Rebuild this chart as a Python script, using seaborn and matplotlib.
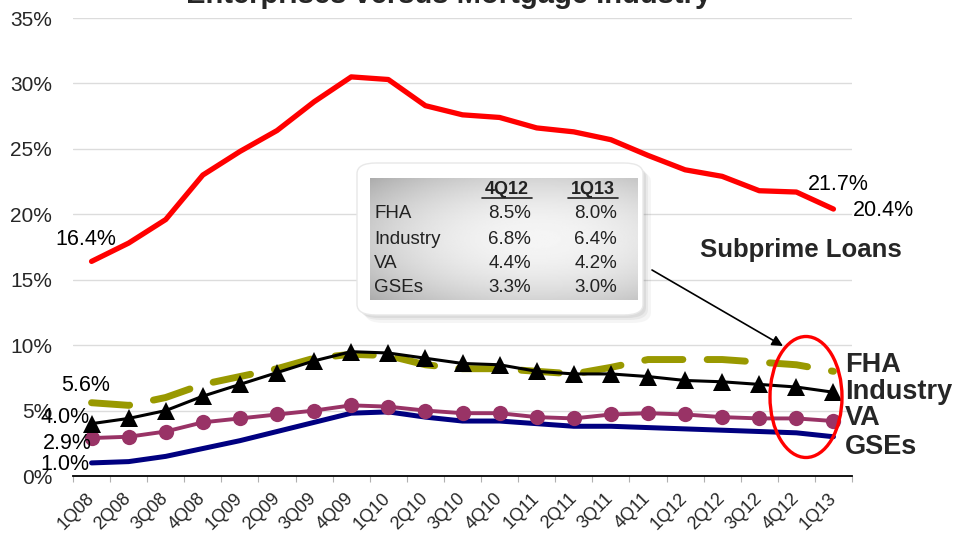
import numpy as np
import pandas as pd
import matplotlib
matplotlib.use("Agg")
import matplotlib.pyplot as plt
import seaborn as sns
from matplotlib.patches import FancyBboxPatch, Ellipse

# === Data (percent of loans) ===
quarters = ["1Q08", "2Q08", "3Q08", "4Q08", "1Q09", "2Q09", "3Q09", "4Q09",
            "1Q10", "2Q10", "3Q10", "4Q10", "1Q11", "2Q11", "3Q11", "4Q11",
            "1Q12", "2Q12", "3Q12", "4Q12", "1Q13"]
subprime = [16.4, 17.8, 19.6, 23.0, 24.8, 26.4, 28.6, 30.5, 30.3, 28.3, 27.6,
            27.4, 26.6, 26.3, 25.7, 24.5, 23.4, 22.9, 21.8, 21.7, 20.4]
fha = [5.6, 5.4, 6.0, 7.0, 7.6, 8.2, 9.0, 9.3, 9.2, 8.5, 8.2,
       8.2, 8.0, 7.8, 8.3, 8.9, 8.9, 8.9, 8.7, 8.5, 8.0]
industry = [4.0, 4.4, 5.0, 6.1, 7.0, 7.9, 8.8, 9.5, 9.4, 9.0, 8.6,
            8.5, 8.0, 7.8, 7.8, 7.6, 7.3, 7.2, 7.0, 6.8, 6.4]
va = [2.9, 3.0, 3.4, 4.1, 4.4, 4.7, 5.0, 5.4, 5.3, 5.0, 4.8,
      4.8, 4.5, 4.4, 4.7, 4.8, 4.7, 4.5, 4.4, 4.4, 4.2]
gses = [1.0, 1.1, 1.5, 2.1, 2.7, 3.4, 4.1, 4.8, 4.9, 4.5, 4.2,
        4.2, 4.0, 3.8, 3.8, 3.7, 3.6, 3.5, 3.4, 3.3, 3.0]
table_rows = ["FHA", "Industry", "VA", "GSEs"]
table_cols = ["4Q12", "1Q13"]

df = pd.DataFrame({"pos": np.arange(len(quarters)), "quarter": quarters,
                   "subprime": subprime, "fha": fha, "industry": industry,
                   "va": va, "gses": gses})

sns.set_theme(style="white")
plt.rcParams["font.family"] = ["Liberation Sans", "DejaVu Sans"]

W, H = 955, 533
fig = plt.figure(figsize=(W / 100, H / 100), dpi=100)
ax = fig.add_axes([73 / W, 1 - 476 / H, (852 - 73) / W, (476 - 18) / H])

# === Lines ===
sns.lineplot(data=df, x="pos", y="subprime", color="#ff0000", lw=3.8, ax=ax,
             zorder=3, solid_capstyle="round")
sns.lineplot(data=df, x="pos", y="gses", color="#000080", lw=3.6, ax=ax, zorder=3)
sns.lineplot(data=df, x="pos", y="va", color="#993366", lw=2.8, marker="o",
             markersize=11, markeredgewidth=0, ax=ax, zorder=4)
sns.lineplot(data=df, x="pos", y="fha", color="#999900", lw=5, ax=ax, zorder=4,
             dashes=False, linestyle=(0, (5.5, 3.5)), dash_capstyle="round")
sns.lineplot(data=df, x="pos", y="industry", color="black", lw=2.2, marker="^",
             markersize=13, markeredgewidth=0, ax=ax, zorder=5)

# === Axes styling ===
ax.set_ylim(0, 35)
ax.set_xlim(-0.5, len(quarters) - 0.5)
ax.set_yticks(range(0, 36, 5))
ax.set_yticklabels([f"{v}%" for v in range(0, 36, 5)], fontsize=15)
ax.tick_params(axis="y", length=0, pad=15)
ax.set_xticks(df["pos"])
ax.set_xticklabels(quarters, fontsize=13, rotation=45, ha="right",
                   va="center", rotation_mode="anchor")
ax.tick_params(axis="x", which="major", length=0, pad=14)
ax.set_xticks(np.arange(-0.5, len(quarters), 1), minor=True)
ax.tick_params(axis="x", which="minor", length=4, width=0.8, color="#b0b0b0",
               direction="out", bottom=True)
ax.grid(axis="y", color="#dcdcdc", lw=1)
ax.grid(axis="x", visible=False)
for s in ["left", "right", "top"]:
    ax.spines[s].set_visible(False)
ax.spines["bottom"].set_color("black")
ax.spines["bottom"].set_linewidth(1.3)
ax.set_xlabel("")
ax.set_ylabel("")

# === Value labels ===
def lab(series, i, txt, dx, dy, ha="center"):
    ax.annotate(txt, xy=(i, series[i]), xytext=(dx * 0.72, dy * 0.72),
                textcoords="offset points", ha=ha, va="center", fontsize=15.5,
                color="black", zorder=6)

lab(subprime, 0, f"{subprime[0]}%", -6, 22)
lab(subprime, 19, f"{subprime[19]}%", 42, 8)
lab(subprime, 20, f"{subprime[20]}%", 19, -1, ha="left")
lab(fha, 0, f"{fha[0]}%", -6, 17)
lab(industry, 0, f"{industry[0]}%", -2, 6, ha="right")
lab(va, 0, f"{va[0]}%", 0, -5, ha="right")
lab(gses, 0, f"{gses[0]}%", -2, -2, ha="right")

# === Series names on the right ===
for name, y in zip(table_rows, [365, 392, 418, 447]):
    fig.text(845 / W, 1 - y / H, name, fontsize=19.5, fontweight="bold",
             ha="left", va="center")
fig.text(801 / W, 1 - 250 / H, "Subprime Loans", fontsize=18.5,
         fontweight="bold", ha="center", va="center")

# === Title (cut off at the top in the source) ===
fig.text(449 / W, 1 - 3 / H, "Enterprises versus Mortgage Industry",
         fontsize=21, fontweight="bold", ha="center", va="baseline")

# === Inset table box ===
def fbox(x0, y0, x1, y1, **kw):
    return FancyBboxPatch((x0 / W, 1 - y1 / H), (x1 - x0) / W, (y1 - y0) / H,
                          transform=fig.transFigure, **kw)

for k, a in [(8, 0.06), (5, 0.08), (3, 0.10)]:
    fig.patches.append(fbox(357 + k, 163 + k, 643 + k, 315 + k,
                            boxstyle="round,pad=0,rounding_size=0.02",
                            fc="#606060", ec="none", alpha=a, zorder=7))
fig.patches.append(fbox(357, 163, 643, 315,
                        boxstyle="round,pad=0,rounding_size=0.02",
                        fc="white", ec="#e8e8e8", lw=1, zorder=8))

tax = fig.add_axes([370 / W, 1 - 300 / H, (637 - 370) / W, (300 - 178) / H],
                   zorder=9)
gx, gy = np.meshgrid(np.linspace(-1, 1, 200), np.linspace(-1, 1, 100))
grad = 0.96 - 0.16 * ((gx - 0.25) ** 2 / 1.6 + gy ** 2 * 0.8)
tax.imshow(grad, cmap="gray", vmin=0, vmax=1, aspect="auto",
           extent=(0, 1, 0, 1), origin="lower")
tax.set_xlim(0, 1)
tax.set_ylim(0, 1)
tax.axis("off")

def tpx(x, y):
    return ((x - 370) / (637 - 370), (300 - y) / (300 - 178))

series_map = {"FHA": fha, "Industry": industry, "VA": va, "GSEs": gses}
for cx, col in zip([507, 593], table_cols):
    t = tax.text(*tpx(cx, 190), col, fontsize=13, fontweight="bold",
                 ha="center", va="center", color="#222222")
    tax.plot([tpx(cx - 25, 198)[0], tpx(cx + 25, 198)[0]],
             [tpx(cx, 198)[1]] * 2, color="#222222", lw=1.2)
for name, y in zip(table_rows, [213, 239, 263, 287]):
    tax.text(*tpx(374, y), name, fontsize=13.5, ha="left", va="center",
             color="#222222")
    vals = series_map[name]
    tax.text(*tpx(531, y), f"{vals[-2]:.1f}%", fontsize=13.5, ha="right",
             va="center", color="#222222")
    tax.text(*tpx(617, y), f"{vals[-1]:.1f}%", fontsize=13.5, ha="right",
             va="center", color="#222222")

# === Arrow and highlight ellipse ===
fig.add_artist(Ellipse((806 / W, 1 - 397 / H), 72 / W, 121 / H,
                       transform=fig.transFigure, fill=False, ec="#ff0000",
                       lw=2.4, zorder=10))
ax.annotate("", xy=(783, H - 346), xytext=(652, H - 270),
            xycoords="figure pixels", textcoords="figure pixels",
            arrowprops=dict(arrowstyle="-|>", color="black", lw=1.2,
                            mutation_scale=16, shrinkA=0, shrinkB=0),
            annotation_clip=False, zorder=10)

plt.savefig("out.png", dpi=100)
plt.close()
